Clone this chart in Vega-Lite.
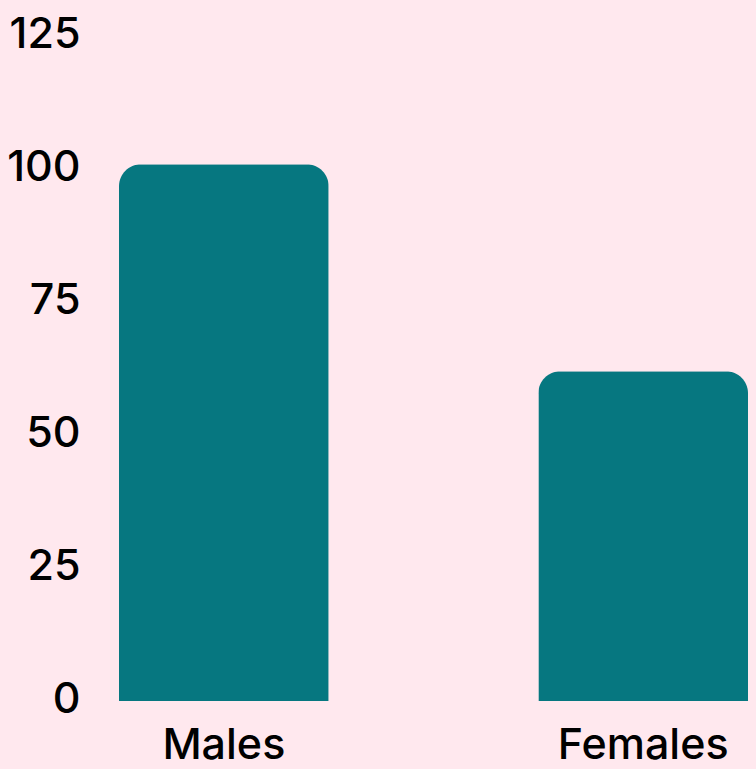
{
  "$schema": "https://vega.github.io/schema/vega-lite/v6.json",
  "autosize": "none",
  "width": 629,
  "height": 665,
  "padding": {"left": 119, "top": 36, "right": 8, "bottom": 68},
  "background": "#FFE8EE",
  "config": {
    "view": {"stroke": null},
    "font": "Inter",
    "axis": {"domain": false, "ticks": false, "grid": false, "title": null, "labelColor": "#000000", "labelFont": "Inter", "labelFontSize": 43, "labelFontWeight": 500}
  },
  "data": {"values": [
    {"sex": "Males", "value": 100.9},
    {"sex": "Females", "value": 62.0}
  ]},
  "mark": {"type": "bar", "color": "#067780", "cornerRadiusTopLeft": 22, "cornerRadiusTopRight": 22},
  "encoding": {
    "x": {"field": "sex", "type": "nominal", "sort": ["Males", "Females"], "scale": {"paddingInner": 0.5, "paddingOuter": 0}, "axis": {"labelAngle": 0, "labelPadding": 23, "labelBaseline": "top"}},
    "y": {"field": "value", "type": "quantitative", "scale": {"domain": [0, 125]}, "axis": {"values": [0, 25, 50, 75, 100, 125], "labelPadding": 39, "labelBaseline": "middle", "labelAlign": "right", "labelOffset": -2}}
  }
}
